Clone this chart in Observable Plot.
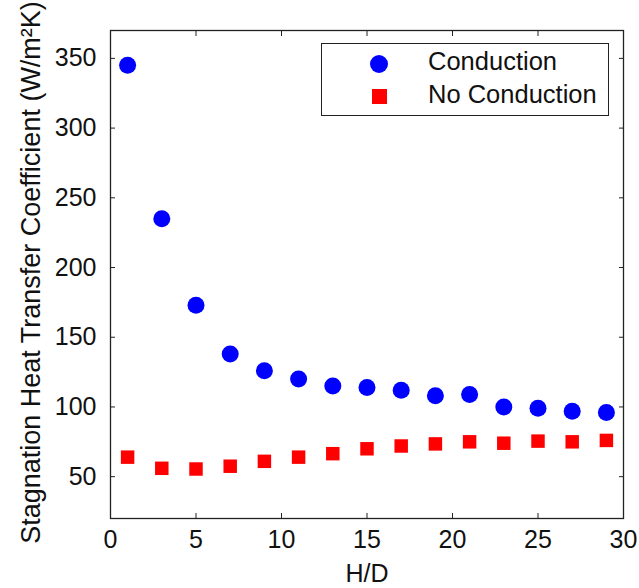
<!DOCTYPE html>
<html><head><meta charset="utf-8">
<script src="https://cdn.jsdelivr.net/npm/d3@7"></script>
<script src="https://cdn.jsdelivr.net/npm/@observablehq/plot@0.6"></script>
<style>
body{margin:0;background:#fff;font-family:"Liberation Sans",Arial,sans-serif;}
#wrap{position:relative;width:639px;height:588px;}
#legend{position:absolute;left:321px;top:43px;width:288px;height:73px;border:1.3px solid #222;background:#fff;box-sizing:border-box;font-size:25.5px;}
.sym{position:absolute;}
.lab{position:absolute;left:106px;white-space:nowrap;color:#111;}
</style>
</head><body>
<div id="wrap"></div>
<script>
const hd = [1,3,5,7,9,11,13,15,17,19,21,23,25,27,29];
const conduction = [345,235,173,138,126,120,115,114,112,108,109,100,99,97,96];
const noConduction = [64,56,55.5,57.5,61,64,66.5,70,72,73.5,75,74,75.5,75,76];
const xTicks = [0,5,10,15,20,25,30];
const yTicks = [50,100,150,200,250,300,350];
const seriesNames = ["Conduction","No Conduction"];

const dataC = hd.map((x,i)=>({x, y: conduction[i]}));
const dataN = hd.map((x,i)=>({x, y: noConduction[i]}));

const plot = Plot.plot({
  width: 639, height: 588,
  marginLeft: 110, marginTop: 30, marginRight: 16, marginBottom: 70,
  style: {fontFamily: '"Liberation Sans", Arial, sans-serif', fontSize: "25px", color: "#111", background: "#fff"},
  x: {domain: [0,30]},
  y: {domain: [20,370]},
  marks: [
    Plot.frame({stroke: "#222", strokeWidth: 1.3}),
    Plot.axisX(xTicks, {anchor: "bottom", tickSize: -5, tickPadding: 17, stroke: "#222", label: null, fontSize: 25}),
    Plot.axisX(xTicks, {anchor: "top", tickSize: -5, tickFormat: () => "", stroke: "#222", label: null}),
    Plot.axisY(yTicks, {anchor: "left", tickSize: -5, tickPadding: 19, stroke: "#222", label: null, fontSize: 25}),
    Plot.axisY(yTicks, {anchor: "right", tickSize: -5, tickFormat: () => "", stroke: "#222", label: null}),
    Plot.text(["H/D"], {frameAnchor: "bottom", dy: 63, fontSize: 25, fill: "#111"}),
    Plot.text(["Stagnation Heat Transfer Coefficient (W/m\u00B2K)"], {frameAnchor: "left", dx: -79, dy: -2, rotate: -90, textAnchor: "middle", fontSize: 27, fill: "#111"}),
    Plot.dot(dataC, {x: "x", y: "y", r: 8.5, fill: "#0000ff", symbol: "circle"}),
    Plot.dot(dataN, {x: "x", y: "y", r: 7.6, fill: "#ff0000", symbol: "square"})
  ]
});
const wrap = document.getElementById("wrap");
wrap.appendChild(plot);

const leg = document.createElement("div");
leg.id = "legend";
leg.innerHTML = `
  <div class="sym" style="left:48px;top:11px;width:18px;height:18px;border-radius:50%;background:#0000ff"></div>
  <div class="lab" style="top:3px">${seriesNames[0]}</div>
  <div class="sym" style="left:50px;top:45px;width:15px;height:15px;background:#ff0000"></div>
  <div class="lab" style="top:36px">${seriesNames[1]}</div>`;
wrap.appendChild(leg);
</script>
</body></html>
